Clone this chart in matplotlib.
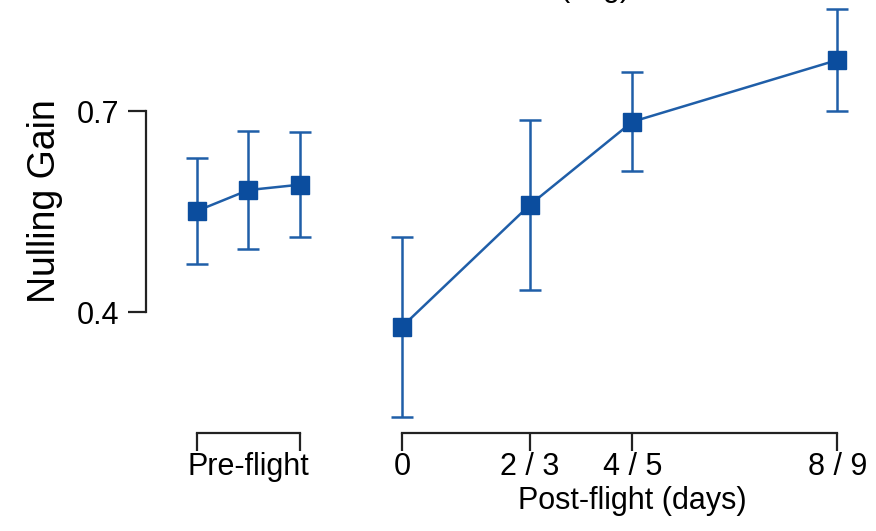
import matplotlib
matplotlib.use("Agg")
import matplotlib.pyplot as plt
import matplotlib.transforms as mtransforms

plt.rcParams['font.family'] = ['Liberation Sans', 'DejaVu Sans']

# Data: nulling gain, mean +/- error
pre_x = [-4, -3, -2]
pre_mean = [0.551, 0.582, 0.590]
pre_err = [0.079, 0.088, 0.078]

post_x = [0, 2.5, 4.5, 8.5]
post_mean = [0.378, 0.560, 0.684, 0.776]
post_err = [0.134, 0.127, 0.074, 0.076]
post_labels = ['0', '2 / 3', '4 / 5', '8 / 9']

yticks = [0.4, 0.7]

line_col = '#1f5ea8'
mark_col = '#0b4d9e'
axis_col = '#222222'

fig = plt.figure(figsize=(8.76, 5.31), dpi=100)
ax1 = fig.add_axes([146 / 876, 98 / 531, 184 / 876, 433 / 531])
ax2 = fig.add_axes([360 / 876, 98 / 531, 516 / 876, 433 / 531])

ylim = (0.2194, 0.8657)
eb_kw = dict(fmt='-s', color=line_col, mfc=mark_col, mec=mark_col, ms=13,
             lw=1.8, elinewidth=1.8, capsize=8, capthick=1.8, clip_on=False)

ax1.errorbar(pre_x, pre_mean, yerr=pre_err, **eb_kw)
ax2.errorbar(post_x, post_mean, yerr=post_err, **eb_kw)

for ax in (ax1, ax2):
    ax.set_ylim(*ylim)
    ax.patch.set_visible(False)
    for s in ['top', 'right']:
        ax.spines[s].set_visible(False)
    ax.spines['bottom'].set_linewidth(1.6)
    ax.spines['bottom'].set_color(axis_col)
    ax.tick_params(axis='both', which='major', length=13, width=1.6,
                   color=axis_col, labelsize=22)

# pre-flight panel
ax1.set_xlim(-5, -1.406)
ax1.spines['left'].set_bounds(0.4, 0.7)
ax1.spines['left'].set_linewidth(1.6)
ax1.spines['left'].set_color(axis_col)
ax1.spines['bottom'].set_bounds(-4, -2)
ax1.set_yticks(yticks)
ax1.set_yticklabels(['0.4', '0.7'])
ax1.tick_params(axis='y', pad=6)
ax1.set_xticks([-4, -2])
ax1.set_xticklabels(['', ''])
ax1.set_xticks([-3], minor=True)
ax1.set_xticklabels(['Pre-flight'], minor=True)
ax1.tick_params(axis='x', which='minor', length=0, pad=14, labelsize=22)
ax1.set_ylabel('Nulling Gain', fontsize=27)
ytrans = mtransforms.blended_transform_factory(ax1.transAxes, ax1.transData)
ax1.yaxis.set_label_coords(-0.45, 0.566, transform=ytrans)

# post-flight panel
ax2.set_xlim(-0.820, 9.258)
ax2.spines['left'].set_visible(False)
ax2.spines['bottom'].set_bounds(0, 8.5)
ax2.set_yticks([])
ax2.set_xticks(post_x)
ax2.set_xticklabels(post_labels)
ax2.tick_params(axis='x', pad=1)
ax2.set_xlabel('Post-flight (days)', fontsize=22)
trans = mtransforms.blended_transform_factory(ax2.transData, ax2.transAxes)
ax2.xaxis.set_label_coords(4.5, -0.122, transform=trans)

# title cut off at the top edge of the image
fig.text(630 / 876, 1.0 + 4 / 531, '(deg)', ha='right', va='baseline',
         fontsize=22)

fig.savefig('out.png', dpi=100)
